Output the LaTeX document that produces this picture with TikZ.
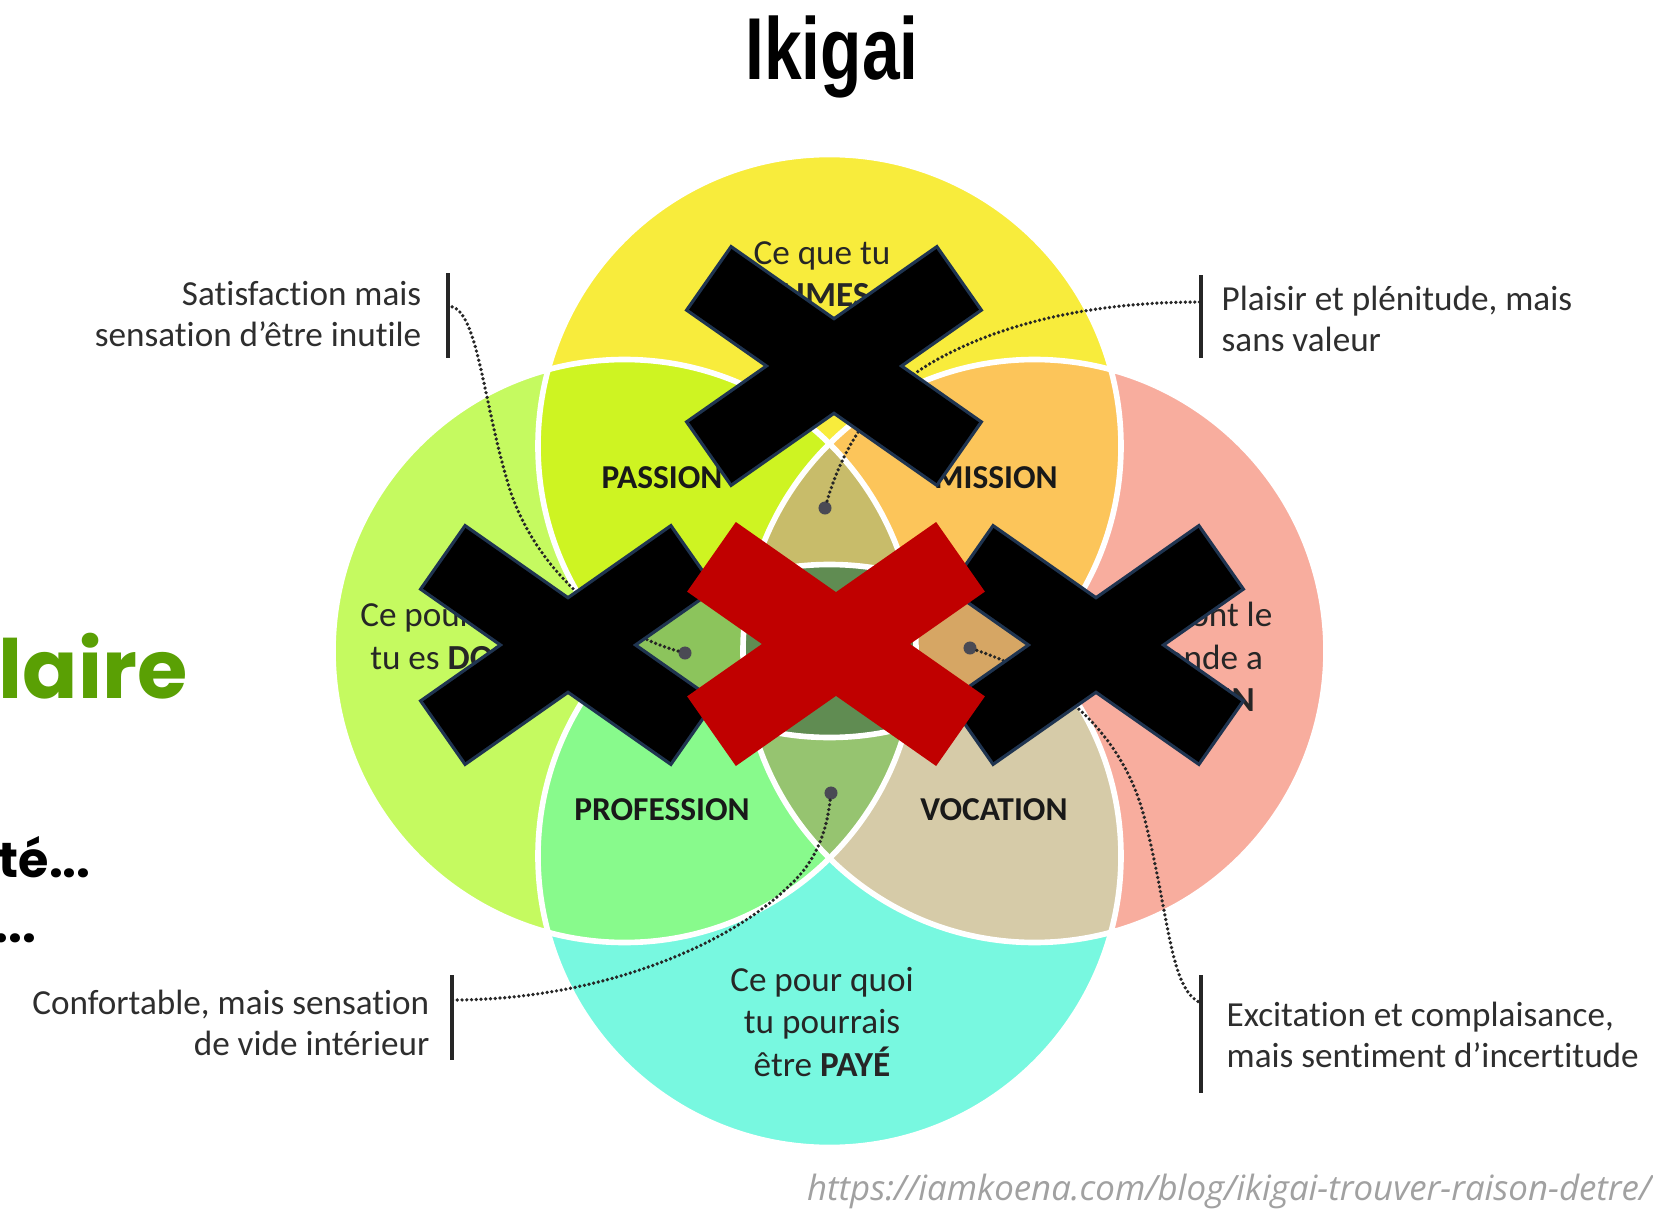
\documentclass[tikz,border=0pt]{standalone}
\usepackage{fontspec}
\setmainfont{Carlito}[Ligatures=NoCommon]
\newfontfamily\popfont{Poppins}
\newfontfamily\titlefont{Liberation Sans}
\newfontfamily\urlfont{Open Sans}
\usetikzlibrary{positioning}

\definecolor{aimesC}{RGB}{248,236,60}
\definecolor{doueC}{RGB}{197,250,96}
\definecolor{besoinC}{RGB}{248,173,158}
\definecolor{payeC}{RGB}{120,248,224}
\definecolor{passionC}{RGB}{206,244,34}
\definecolor{missionC}{RGB}{252,197,90}
\definecolor{professionC}{RGB}{136,250,140}
\definecolor{vocationC}{RGB}{214,203,168}
\definecolor{topLensC}{RGB}{200,188,106}
\definecolor{leftLensC}{RGB}{140,196,92}
\definecolor{rightLensC}{RGB}{214,166,100}
\definecolor{bottomLensC}{RGB}{150,196,112}
\definecolor{centreC}{RGB}{96,140,82}
\definecolor{navyC}{RGB}{31,52,80}
\definecolor{redC}{RGB}{192,0,0}
\definecolor{greenC}{RGB}{90,160,4}
\definecolor{spotC}{RGB}{74,74,84}

\begin{document}
\begin{tikzpicture}[x=0.01cm,y=-0.01cm,
  ring/.style={draw=white,line width=1.6pt},
  circtext/.style={align=center,inner sep=0,font=\fontsize{10}{12}\selectfont,text=black!85},
  zone/.style={inner sep=0,font=\fontsize{9.5}{11}\selectfont\bfseries,text=black!90},
  remark/.style={inner sep=0,font=\fontsize{10}{11.5}\selectfont,text=black!82},
  bar/.style={line width=1.1pt,black!85},
  leader/.style={line width=1.05pt,black!85,line cap=round,dash pattern=on 0pt off 1.35pt},
  spot/.style={circle,fill=spotC,inner sep=0,minimum size=0.13cm},
  xedge/.style={draw=navyC,fill=black,line width=1.9pt}]
\fill[white] (0,0) rectangle (1653,1209);
\useasboundingbox (0,0) rectangle (1653,1209);

\node[anchor=base,inner sep=0] (title) at (832,80) {\titlefont\bfseries\fontsize{25}{30}\selectfont\scalebox{0.77}[1]{Ikigai}};
\node[anchor=base west,inner sep=0,text=greenC] (salary) at (-2,698) {\popfont\bfseries\fontsize{23.2}{28}\selectfont laire};
\node[anchor=base west,inner sep=0] (line1) at (-2,877) {\popfont\bfseries\fontsize{14}{16}\selectfont té...};
\node[anchor=base west,inner sep=0] (line2) at (-6,942) {\popfont\bfseries\fontsize{14}{16}\selectfont ...};
\node[anchor=base east,inner sep=0,text=black!37] (source) at (1652,1200) {\urlfont\itshape\fontsize{9.9}{11}\selectfont https://iamkoena.com/blog/ikigai-trouver-raison-detre/};

% the four circles
\coordinate (cT) at (829.5,446);
\coordinate (cB) at (829.5,856);
\coordinate (cL) at (624.5,651);
\coordinate (cR) at (1034.5,651);
\fill[aimesC] (cT) circle (291.5);
\fill[payeC] (cB) circle (291.5);
\fill[doueC] (cL) circle (291.5);
\fill[besoinC] (cR) circle (291.5);

\begin{scope}
  \clip (cT) circle (291.5);
  \fill[passionC] (cL) circle (291.5);
  \fill[missionC] (cR) circle (291.5);
\end{scope}
\begin{scope}
  \clip (cB) circle (291.5);
  \fill[professionC] (cL) circle (291.5);
  \fill[vocationC] (cR) circle (291.5);
\end{scope}
\begin{scope}
  \clip (cL) circle (291.5);
  \clip (cR) circle (291.5);
  \fill[topLensC] (cT) circle (291.5);
  \fill[bottomLensC] (cB) circle (291.5);
\end{scope}
\begin{scope}
  \clip (cT) circle (291.5);
  \clip (cB) circle (291.5);
  \fill[leftLensC] (cL) circle (291.5);
  \fill[rightLensC] (cR) circle (291.5);
  \clip (cL) circle (291.5);
  \fill[centreC] (cR) circle (291.5);
\end{scope}
\foreach \c in {cT,cB,cL,cR}
  \draw[ring] (\c) circle (291.5);

\node[circtext] (aimes) at (822,274) {Ce que tu\\\textbf{AIMES}};
\node[circtext] (doue) at (452,636) {Ce pour quoi\\tu es \textbf{DOUÉ}};
\node[circtext] (besoin) at (1200,657) {Ce dont le\\monde a\\\textbf{BESOIN}};
\node[circtext] (paye) at (822,1022) {Ce pour quoi\\tu pourrais\\être \textbf{PAYÉ}};
\node[zone] (passion) at (662,478) {PASSION};
\node[zone] (mission) at (996,478) {MISSION};
\node[zone] (profession) at (662,810) {PROFESSION};
\node[zone] (vocation) at (994,810) {VOCATION};

% remarks
\draw[bar] (448,273) -- (448,358);
\draw[bar] (1201,275) -- (1201,358);
\draw[bar] (452,975) -- (452,1060);
\draw[bar] (1201,975) -- (1201,1093);
\coordinate (tlend) at (448,306);
\coordinate (trend) at (1201,302);
\coordinate (blend) at (452,1000);
\coordinate (brend) at (1201,1003);
\node[remark,align=right,anchor=east] (useless) at (422,314) {Satisfaction mais\\sensation d’être inutile};
\node[remark,align=left,anchor=west] (nowealth) at (1221,319) {Plaisir et plénitude, mais\\sans valeur};
\node[remark,align=left,anchor=west] (unsure) at (1226,1035) {Excitation et complaisance,\\mais sentiment d’incertitude};
\node[remark,align=right,anchor=east] (empty) at (430,1023) {Confortable, mais sensation\\de vide intérieur};

\node[spot] (tdot) at (825,508) {};
\node[spot] (ldot) at (685,653) {};
\node[spot] (rdot) at (970,648) {};
\node[spot] (bdot) at (831,793) {};
\draw[leader] (ldot) .. controls (620,635) and (540,580) .. (510,490) .. controls (482,400) and (478,306) .. (tlend);
\draw[leader] (tdot) .. controls (845,440) and (880,390) .. (940,358) .. controls (1010,320) and (1100,302) .. (trend);
\draw[leader] (bdot) .. controls (826,835) and (815,862) .. (790,885) .. controls (730,945) and (600,1000) .. (blend);
\draw[leader] (rdot) .. controls (1040,672) and (1120,720) .. (1145,820) .. controls (1170,920) and (1170,990) .. (brend);

% crosses
\foreach \cx/\cy in {834/366, 568/645, 1096/645} {
  \begin{scope}[shift={(\cx,\cy)}]
    \draw[xedge,rotate=35] (-151,-37) rectangle (151,37);
    \draw[xedge,rotate=-35] (-151,-37) rectangle (151,37);
    \fill[black,rotate=35] (-151,-37) rectangle (151,37);
    \fill[black,rotate=-35] (-151,-37) rectangle (151,37);
  \end{scope}
}
\begin{scope}[shift={(836,644)}]
  \fill[redC,rotate=35] (-152,-42.5) rectangle (152,42.5);
  \fill[redC,rotate=-35] (-152,-42.5) rectangle (152,42.5);
\end{scope}
\end{tikzpicture}
\end{document}
